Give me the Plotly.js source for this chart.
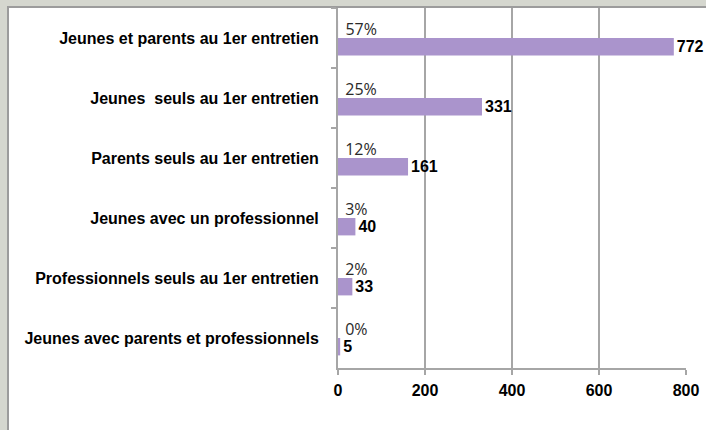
<!DOCTYPE html>
<html>
<head>
<meta charset="utf-8">
<script src="https://cdn.plot.ly/plotly-3.0.1.min.js"></script>
<style>html,body{margin:0;padding:0;background:#d5d7cf;}#chart{width:706px;height:430px;}</style>
</head>
<body>
<div id="chart"></div>
<script>
var categories = [
  "Jeunes et parents au 1er entretien",
  "Jeunes\u00a0 seuls au 1er entretien",
  "Parents seuls au 1er entretien",
  "Jeunes avec un professionnel",
  "Professionnels seuls au 1er entretien",
  "Jeunes avec parents et professionnels"
];
var percentValues = [0.57, 0.25, 0.12, 0.03, 0.02, 0.00];
var percentLabels = ["57%", "25%", "12%", "3%", "2%", "0%"];
var countValues = [772, 331, 161, 40, 33, 5];
var xTicks = [0, 200, 400, 600, 800];

var traces = [
  {
    type: "bar", orientation: "h", name: "%",
    y: categories, x: percentValues,
    text: percentLabels, textposition: "outside", cliponaxis: false,
    constraintext: "none",
    texttemplate: "\u00a0%{text}",
    textfont: {family: "'Open Sans', 'Liberation Sans', Arial, sans-serif", size: 16, color: "#2a2a2a"},
    marker: {color: "#e6ddf0", line: {width: 0}},
    hoverinfo: "skip"
  },
  {
    type: "bar", orientation: "h", name: "N",
    y: categories, x: countValues,
    text: countValues.map(String), textposition: "outside", cliponaxis: false,
    constraintext: "none",
    textfont: {family: "'Liberation Sans', Arial, sans-serif", size: 16, color: "#000000", weight: "bold"},
    marker: {color: "#aa94cc", line: {width: 0}},
    hoverinfo: "skip"
  }
];

var layout = {
  width: 706, height: 430,
  margin: {l: 338, r: 20, t: 8, b: 62},
  paper_bgcolor: "#d5d7cf",
  plot_bgcolor: "rgba(0,0,0,0)",
  showlegend: false,
  barmode: "group",
  bargap: 0.42,
  bargroupgap: 0,
  font: {family: "'Liberation Sans', Arial, sans-serif", size: 16, color: "#000"},
  xaxis: {
    range: [0, 800], tickvals: xTicks, ticktext: xTicks.map(String),
    showgrid: true, gridcolor: "#a6a6a6", gridwidth: 2,
    zeroline: false, showline: true, linecolor: "#a6a6a6", linewidth: 2,
    ticks: "outside", ticklen: 5, tickcolor: "#a6a6a6", tickwidth: 2,
    ticklabelstandoff: 2,
    tickfont: {family: "'Liberation Sans', Arial, sans-serif", size: 16, color: "#000", weight: "bold"},
    fixedrange: true
  },
  yaxis: {
    autorange: "reversed", type: "category",
    showgrid: false, zeroline: false,
    showline: true, linecolor: "#a6a6a6", linewidth: 2,
    ticks: "outside", tickson: "boundaries", ticklen: 5, tickcolor: "#a6a6a6", tickwidth: 2,
    ticklabelstandoff: 14,
    tickfont: {family: "'Liberation Sans', Arial, sans-serif", size: 16, color: "#000", weight: "bold"},
    fixedrange: true
  },
  shapes: [
    {
      type: "rect", xref: "paper", yref: "paper", layer: "below",
      x0: (8 - 338) / 348, x1: (720 - 338) / 348,
      y0: (368 - 440) / 360, y1: (368 - 7) / 360,
      fillcolor: "#ffffff", line: {color: "#9c9c9c", width: 2}
    }
  ]
};

Plotly.newPlot("chart", traces, layout, {displayModeBar: false, staticPlot: true});
</script>
</body>
</html>
